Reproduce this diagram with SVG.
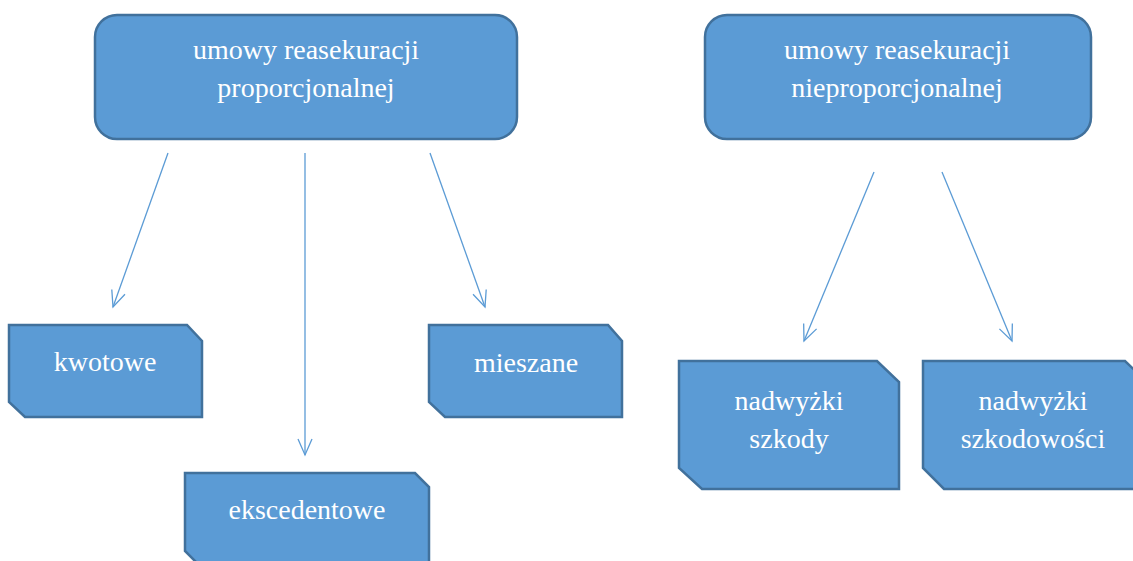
<svg xmlns="http://www.w3.org/2000/svg" width="1133" height="561" viewBox="0 0 1133 561">
<style>
.box{fill:#5B9BD5;stroke:#41719C;stroke-width:2.5}
.t{font-family:"Liberation Serif","Times New Roman",serif;font-size:28px;fill:#FFFFFF;text-anchor:middle}
.c{stroke:#5B9BD5;stroke-width:1.3;fill:none;marker-end:url(#ah)}
</style>
<defs>
<marker id="ah" viewBox="0 0 20 20" refX="18" refY="10" markerWidth="20" markerHeight="20" markerUnits="userSpaceOnUse" orient="auto">
<path d="M2,3 L18,10 L2,17" fill="none" stroke="#5B9BD5" stroke-width="1.3"/>
</marker>
</defs>
<rect width="1133" height="561" fill="#FFFFFF"/>
<g id="connectors">
<line class="c" x1="168" y1="153" x2="113" y2="307"/>
<line class="c" x1="305" y1="153" x2="305" y2="455"/>
<line class="c" x1="430" y1="153" x2="485" y2="307"/>
<line class="c" x1="874" y1="172" x2="804" y2="341"/>
<line class="c" x1="942" y1="172" x2="1012" y2="341"/>
</g>
<g id="n-prop">
<rect class="box" x="95" y="15" width="422" height="124" rx="22"/>
<text class="t" x="306" y="59">umowy reasekuracji</text>
<text class="t" x="306" y="97">proporcjonalnej</text>
</g>
<g id="n-nieprop">
<rect class="box" x="705" y="15" width="386" height="124" rx="22"/>
<text class="t" x="897" y="59">umowy reasekuracji</text>
<text class="t" x="897" y="97">nieproporcjonalnej</text>
</g>
<g id="n-kwotowe">
<path class="box" d="M9,325 H187 L202,341 V417 H25 L9,402 Z"/>
<text class="t" x="105" y="371">kwotowe</text>
</g>
<g id="n-ekscedentowe">
<path class="box" d="M185,473 H415 L429,487 V566 H200 L185,551 Z"/>
<text class="t" x="307" y="519">ekscedentowe</text>
</g>
<g id="n-mieszane">
<path class="box" d="M429,325 H608 L622,341 V417 H445 L429,402 Z"/>
<text class="t" x="526" y="372">mieszane</text>
</g>
<g id="n-szkody">
<path class="box" d="M679,361 H877 L899,382 V489 H702 L679,468 Z"/>
<text class="t" x="789" y="410">nadwyżki</text>
<text class="t" x="789" y="448">szkody</text>
</g>
<g id="n-szkodowosci">
<path class="box" d="M923,361 H1125 L1147,382 V489 H944 L923,468 Z"/>
<text class="t" x="1033" y="410">nadwyżki</text>
<text class="t" x="1033" y="448">szkodowości</text>
</g>
</svg>
